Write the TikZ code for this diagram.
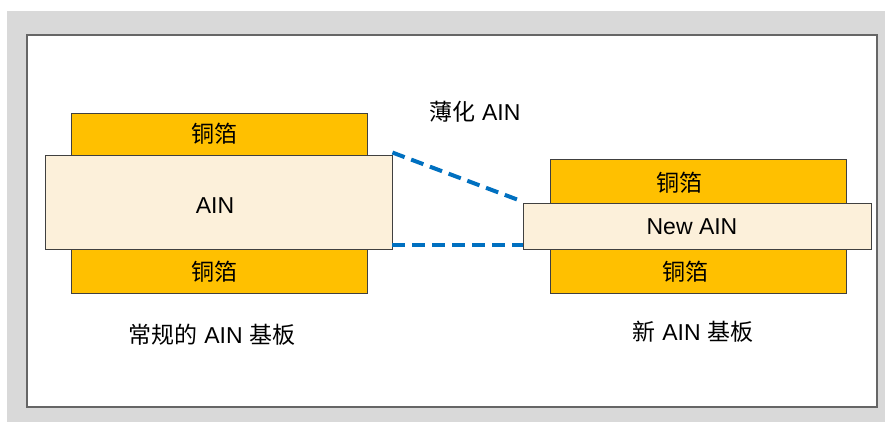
\documentclass[tikz,border=0pt]{standalone}
\usepackage{fontspec}
\setmainfont{Liberation Sans}
\newfontfamily\cjk{Noto Sans CJK SC}
\usetikzlibrary{calc}
\definecolor{bggray}{HTML}{D9D9D9}
\definecolor{copper}{HTML}{FFC000}
\definecolor{ainfill}{HTML}{FCF0DA}
\definecolor{edge}{HTML}{404040}
\definecolor{dashblue}{HTML}{0070C0}
\begin{document}
\begin{tikzpicture}[x=1pt,y=-1pt,
  copperbox/.style={draw=edge, line width=0.9pt, fill=copper, inner sep=0pt},
  ainbox/.style={draw=edge, line width=0.9pt, fill=ainfill, inner sep=0pt},
  txt/.style={font=\fontsize{23}{26}\selectfont, inner sep=0pt, text=black},
  thin/.style={draw=dashblue, line width=4pt, dash pattern=on 13pt off 7pt}]
\useasboundingbox (0,0) rectangle (885,422);
\fill[bggray] (7,11) rectangle (885,422);
\draw[fill=white, draw=edge!80, line width=1.3pt] (27,35) rectangle (877,407);
% left stack
\node[copperbox, minimum width=296pt, minimum height=42pt] (lc1) at (219,134) {};
\node[copperbox, minimum width=296pt, minimum height=44pt] (lc2) at (219,271) {};
\node[ainbox, minimum width=347pt, minimum height=94pt] (lain) at (218.5,202) {};
% right stack
\node[copperbox, minimum width=296pt, minimum height=44pt] (rc1) at (698,181) {};
\node[copperbox, minimum width=296pt, minimum height=44pt] (rc2) at (698,271) {};
\node[ainbox, minimum width=348pt, minimum height=46pt] (rain) at (697,226) {};
% texts
\node[txt] (t1) at (214,134) {\cjk 铜箔};
\node[txt] (t2) at (215,206) {AIN};
\node[txt] (t3) at (214,272) {\cjk 铜箔};
\node[txt] (t4) at (679,183) {\cjk 铜箔};
\node[txt] (t5) at (692,227) {New AIN};
\node[txt] (t6) at (685,272) {\cjk 铜箔};
\node[txt] (t7) at (475,112) {{\cjk 薄化} AIN};
\node[txt] (t8) at (212,335) {{\cjk 常规的} AIN {\cjk 基板}};
\node[txt] (t9) at (693,332) {{\cjk 新} AIN {\cjk 基板}};
% dashed lines
\draw[thin] ($(lain.north east)+(0,-2)$) -- ($(rain.north west)+(0,-1)$);
\draw[thin] ($(lain.south east)+(0,-4)$) -- ($(rain.south west)+(0,-4)$);
\end{tikzpicture}
\end{document}
